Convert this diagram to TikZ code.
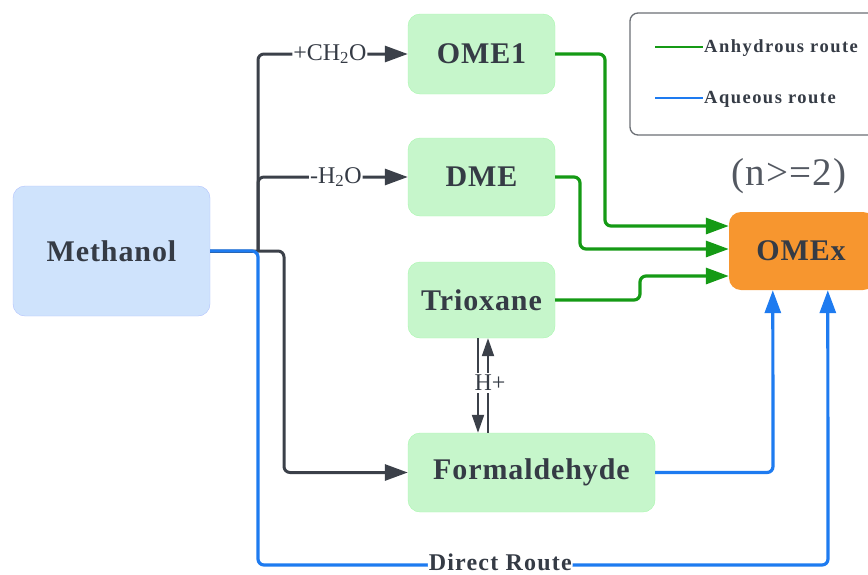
\documentclass[tikz,border=0pt]{standalone}
\usepackage{fontspec}
\setmainfont{Liberation Serif}
\usetikzlibrary{arrows.meta,calc}
\definecolor{txt}{HTML}{353B45}
\definecolor{dk}{HTML}{3B4049}
\definecolor{gr}{HTML}{159A15}
\definecolor{bl}{HTML}{1E7BF0}
\definecolor{gfill}{HTML}{C6F6CB}
\definecolor{bfill}{HTML}{CFE3FC}
\definecolor{ofill}{HTML}{F7962F}
\definecolor{legb}{HTML}{6B6F75}
\begin{document}
\begin{tikzpicture}[x=1pt,y=-1pt,
  box/.style={rectangle,rounded corners=12pt,inner sep=0pt,text=txt,
    font=\fontsize{30}{32}\selectfont\bfseries\addfontfeatures{LetterSpace=3}},
  gbox/.style={box,fill=gfill,draw=gfill!85!green},
  dkline/.style={draw=dk,line width=3pt,rounded corners=6pt},
  grline/.style={draw=gr,line width=3.2pt,rounded corners=6pt},
  blline/.style={draw=bl,line width=3.2pt,rounded corners=6pt},
  tip/.style={-{Triangle[length=23pt,width=16pt]}},
  lbl/.style={fill=white,inner sep=1pt,text=txt,font=\fontsize{24}{26}\selectfont}]
\useasboundingbox (0,0) rectangle (868,574);

% nodes
\node[box,fill=bfill,draw=bfill!85!blue,minimum width=197pt,minimum height=130pt] (meth) at (111.5,251) {Methanol};
\node[gbox,minimum width=147pt,minimum height=80pt] (ome1) at (481.5,54) {OME1};
\node[gbox,minimum width=147pt,minimum height=78pt] (dme) at (481.5,177) {DME};
\node[gbox,minimum width=147pt,minimum height=76pt] (tri) at (481.5,300) {Trioxane};
\node[gbox,minimum width=247pt,minimum height=79pt] (form) at (531.5,472.5) {Formaldehyde};
\node[box,fill=ofill,minimum width=146pt,minimum height=78pt] (omex) at (802,251) {};
\node[text=txt,font=\fontsize{30}{32}\selectfont\bfseries\addfontfeatures{LetterSpace=3}] (omext) at (801,251) {OMEx};
\node[text=txt!85!white,font=\fontsize{39}{40}\selectfont\addfontfeatures{LetterSpace=3}] (nlab) at (789,176) {(n>=2)};

% legend
\node[draw=legb,line width=1.3pt,rounded corners=8pt,minimum width=252pt,minimum height=122pt,inner sep=0pt] (leg) at (756,74) {};
\coordinate (la1) at (655,47); \coordinate (la2) at (703,47);
\coordinate (lb1) at (655,98); \coordinate (lb2) at (703,98);
\draw[gr,line width=2.8pt] (la1) -- (la2);
\draw[bl,line width=2.8pt] (lb1) -- (lb2);
\node[anchor=west,inner sep=1pt,text=txt,font=\fontsize{18.5}{20}\selectfont\bfseries\addfontfeatures{LetterSpace=8}] (lta) at ([yshift=-1pt]la2) {Anhydrous route};
\node[anchor=west,inner sep=1pt,text=txt,font=\fontsize{18.5}{20}\selectfont\bfseries\addfontfeatures{LetterSpace=8}] (ltb) at ([yshift=-1pt]lb2) {Aqueous route};

% dark connectors
\coordinate (j) at (258,251);
\draw[dkline] (meth.east) -- (j);
\draw[dkline,tip] (j) |- node[lbl,pos=0.74] {+CH\textsubscript{2}O} (ome1.west);
\draw[dkline,tip] (j) |- node[lbl,pos=0.76] {-H\textsubscript{2}O} (dme.west);
\draw[dkline,tip] (meth.east) -- (284,251) -- (284,472.5) -- (form.west);

% H+ equilibrium
\coordinate (t1) at ([xshift=-3.5pt]tri.south);
\coordinate (t2) at ([xshift=6.5pt]tri.south);
\draw[draw=dk,line width=2pt,-{Triangle[length=18pt,width=12pt]}] (t1) -- (t1 |- form.north);
\draw[draw=dk,line width=2pt,-{Triangle[length=18pt,width=12pt]}] (t2 |- form.north) -- (t2);
\node[fill=white,inner sep=2pt,text=txt,font=\fontsize{24}{26}\selectfont] (hp) at (490,383) {H+};

% green connectors
\draw[grline,tip] (ome1.east) -- (605,54) -- (605,226) -- ([yshift=25pt]omex.west);
\draw[grline,tip] (dme.east) -- (580,177) -- (580,249) -- ([yshift=2pt]omex.west);
\draw[grline,tip] (tri.east) -- (640,300) -- (640,276) -- ([yshift=-25pt]omex.west);

% blue connectors
\draw[blline,tip] (form.east) -- (773,472.5) -- ([xshift=44pt]omex.south west);
\draw[blline,tip] (meth.east) -- (258,251) -- (258,565) -- node[pos=0.425,yshift=3pt,fill=white,inner sep=1pt,text=txt,font=\fontsize{24}{25}\selectfont\bfseries\addfontfeatures{LetterSpace=5}] (dr) {Direct Route} (828,565) -- ([xshift=99pt]omex.south west);
\end{tikzpicture}
\end{document}
